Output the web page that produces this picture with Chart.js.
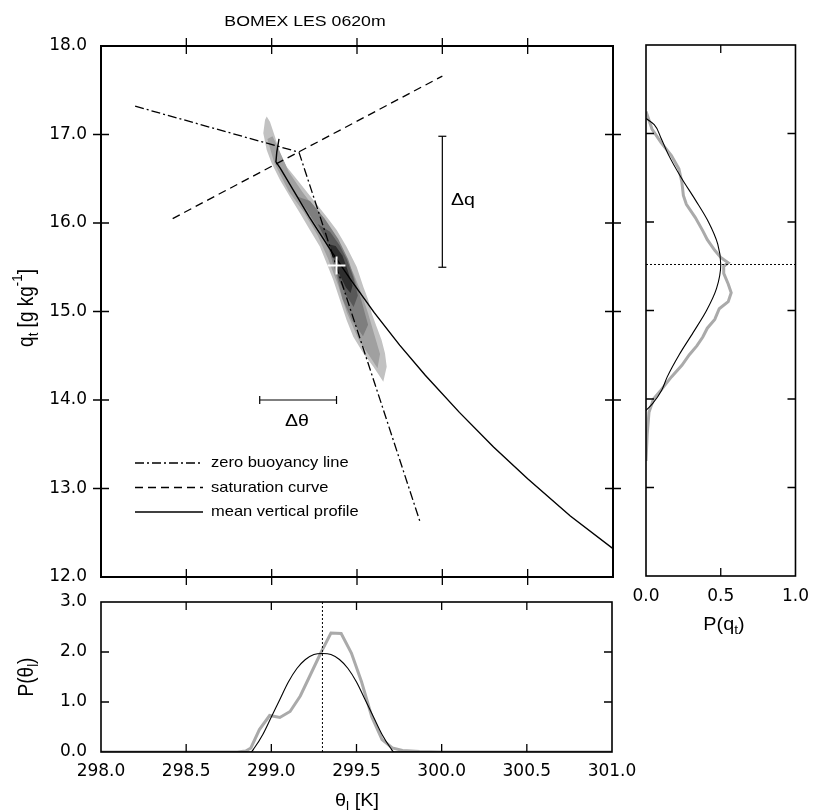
<!DOCTYPE html>
<html>
<head>
<meta charset="utf-8">
<script src="https://cdn.jsdelivr.net/npm/chart.js@4.4.1/dist/chart.umd.min.js"></script>
<style>
  body { margin: 0; background: #fff; }
  #wrap { position: relative; width: 819px; height: 812px; }
  #wrap canvas { position: absolute; left: 0; top: 0; }
</style>
</head>
<body>
<div id="wrap">
  <canvas id="mainChart" width="819" height="812"></canvas>
  <canvas id="rightChart" width="819" height="812"></canvas>
  <canvas id="bottomChart" width="819" height="812"></canvas>
</div>
<script>
/* ===============================
   DATA (theta_l in K, q_t in g/kg)
================================ */
const zeroBuoyTheta = [298.2, 299.16, 299.87];
const zeroBuoyQt = [17.32, 16.8, 12.62];

const satTheta = [298.42, 300.0];
const satQt = [16.05, 17.66];

const profileTheta = [299.043, 299.03, 299.025, 299.05, 299.22, 299.35, 299.47, 299.6, 299.75, 299.9, 300.1, 300.3, 300.5, 300.75, 301.0];
const profileQt = [16.95, 16.8, 16.69, 16.62, 16.07, 15.68, 15.34, 14.99, 14.62, 14.28, 13.86, 13.47, 13.11, 12.69, 12.32];

const meanTheta = 299.38;
const meanQt = 15.52;
const meanThetaPdf = 299.3;

const dqTheta = [300.0, 300.0];
const dqQt = [15.5, 16.98];
const dthTheta = [298.93, 299.38];
const dthQt = [14.0, 14.0];

// joint pdf contours, outer to inner
const c1Theta = [298.961, 298.951, 298.971, 299.0, 299.049, 299.107, 299.166, 299.224, 299.283, 299.322, 299.361, 299.4, 299.439, 299.478, 299.537, 299.596, 299.635, 299.654, 299.674, 299.664, 299.644, 299.615, 299.586, 299.566, 299.537, 299.498, 299.439, 299.381, 299.322, 299.244, 299.166, 299.088, 299.049, 299.019, 298.99, 298.971];
const c1Qt = [17.164, 17.013, 16.825, 16.674, 16.486, 16.298, 16.109, 15.921, 15.733, 15.544, 15.356, 15.13, 14.904, 14.716, 14.527, 14.377, 14.264, 14.207, 14.377, 14.527, 14.678, 14.829, 14.979, 15.13, 15.281, 15.507, 15.733, 15.921, 16.072, 16.26, 16.448, 16.637, 16.787, 16.976, 17.145, 17.202];
const c2Theta = [298.975, 299.015, 299.1, 299.19, 299.27, 299.33, 299.39, 299.44, 299.51, 299.59, 299.62, 299.635, 299.6, 299.565, 299.527, 299.48, 299.42, 299.352, 299.275, 299.18, 299.1, 299.04, 299.005];
const c2Qt = [16.95, 16.68, 16.36, 16.12, 15.86, 15.6, 15.29, 14.99, 14.68, 14.45, 14.36, 14.52, 14.75, 14.98, 15.2, 15.43, 15.66, 15.89, 16.11, 16.35, 16.58, 16.84, 16.98];
const c3Theta = [299.15, 299.215, 299.275, 299.335, 299.375, 299.415, 299.47, 299.535, 299.565, 299.525, 299.488, 299.448, 299.39, 299.31, 299.225];
const c3Qt = [16.3, 16.12, 15.93, 15.7, 15.44, 15.14, 14.9, 14.72, 14.85, 15.13, 15.36, 15.59, 15.82, 16.05, 16.25];
const c4Theta = [299.27, 299.325, 299.365, 299.395, 299.435, 299.48, 299.505, 299.478, 299.44, 299.398, 299.342];
const c4Qt = [15.99, 15.78, 15.58, 15.35, 15.19, 15.05, 15.18, 15.39, 15.59, 15.75, 15.9];
const c5Theta = [299.335, 299.365, 299.395, 299.435, 299.462, 299.474, 299.445, 299.415, 299.375];
const c5Qt = [15.76, 15.63, 15.43, 15.27, 15.21, 15.29, 15.47, 15.63, 15.74];
const contourColors = ['#c2c2c2', '#a0a0a0', '#7e7e7e', '#585858', '#2e2e2e'];

// marginal pdf of q_t
const pqGridQt = [13.87, 13.95, 14.1, 14.25, 14.5, 14.75, 15.0, 15.25, 15.52, 15.75, 16.0, 16.25, 16.5, 16.75, 16.95, 17.1, 17.17];
const pqFit = [0, 0.045, 0.105, 0.142, 0.222, 0.315, 0.405, 0.472, 0.5, 0.48, 0.418, 0.33, 0.236, 0.153, 0.1, 0.055, 0];
const pqLesQt = [17.25, 17.2, 17.05, 16.9, 16.75, 16.6, 16.45, 16.3, 16.2, 16.05, 15.9, 15.8, 15.68, 15.6, 15.54, 15.5, 15.42, 15.3, 15.2, 15.1, 15.02, 14.9, 14.8, 14.7, 14.6, 14.5, 14.38, 14.25, 14.1, 14.0, 13.85, 13.6, 13.3];
const pqLes = [0, 0.01, 0.04, 0.1, 0.17, 0.22, 0.24, 0.25, 0.27, 0.33, 0.38, 0.41, 0.46, 0.5, 0.55, 0.52, 0.52, 0.55, 0.57, 0.55, 0.49, 0.46, 0.41, 0.38, 0.34, 0.29, 0.24, 0.17, 0.1, 0.05, 0.02, 0.008, 0];

// marginal pdf of theta_l
const ptFitTheta = [298.0, 298.88, 298.9, 298.95, 299.0, 299.05, 299.1, 299.15, 299.2, 299.25, 299.3, 299.35, 299.4, 299.45, 299.5, 299.55, 299.6, 299.65, 299.7, 299.72, 301.0];
const ptFit = [0, 0, 0.08, 0.35, 0.7, 1.05, 1.4, 1.67, 1.85, 1.95, 1.97, 1.95, 1.85, 1.67, 1.4, 1.05, 0.7, 0.35, 0.08, 0, 0];
const ptLesTheta = [298.0, 298.8, 298.85, 298.88, 298.93, 298.99, 299.05, 299.11, 299.17, 299.23, 299.29, 299.35, 299.41, 299.47, 299.53, 299.59, 299.65, 299.71, 299.77, 299.87, 300.0, 301.0];
const ptLes = [0, 0, 0.02, 0.08, 0.45, 0.73, 0.69, 0.81, 1.12, 1.55, 1.98, 2.38, 2.37, 1.98, 1.4, 0.7, 0.25, 0.08, 0.03, 0.01, 0, 0];

const legendLabels = ['zero buoyancy line', 'saturation curve', 'mean vertical profile'];

/* ===============================
   HELPERS
================================ */
Chart.defaults.color = '#000';
Chart.defaults.font.family = 'DejaVu Sans';
const TEXT_FONT = 'Liberation Sans';
const TICK_FONT = { size: 17 };

function pts(xs, ys) {
  return xs.map((v, i) => ({ x: v, y: ys[i] }));
}

// parts: [[text, ''|'sub'|'sup'], ...]
function richText(ctx, parts, x, y, size, align, rotated, stretch) {
  const k = stretch || 1.15;
  ctx.save();
  ctx.translate(x, y);
  if (rotated) {
    ctx.rotate(-Math.PI / 2);
    ctx.scale(1, k);
  } else {
    ctx.scale(k, 1);
  }
  ctx.fillStyle = '#000';
  ctx.textBaseline = 'middle';
  ctx.textAlign = 'left';
  const fontFor = (m) => (m ? size * 0.7 : size) + 'px "' + TEXT_FONT + '"';
  let w = 0;
  parts.forEach(([t, m]) => {
    ctx.font = fontFor(m);
    w += ctx.measureText(t).width;
  });
  let cx = align === 'left' ? 0 : -w / 2;
  parts.forEach(([t, m]) => {
    ctx.font = fontFor(m);
    const dy = m === 'sub' ? size * 0.3 : m === 'sup' ? -size * 0.4 : 0;
    ctx.fillText(t, cx, dy);
    cx += ctx.measureText(t).width;
  });
  ctx.restore();
}

const framePlugin = {
  id: 'frame',
  afterDatasetsDraw(chart, args, opts) {
    const { ctx, chartArea: a } = chart;
    const { x, y } = chart.scales;
    ctx.save();
    ctx.strokeStyle = '#000';
    ctx.lineWidth = 1.3;
    ctx.beginPath();
    x.ticks.forEach((t) => {
      if (t.value <= x.min || t.value >= x.max) return;
      const px = x.getPixelForValue(t.value);
      if (opts.xSides.includes('b')) { ctx.moveTo(px, a.bottom + opts.out); ctx.lineTo(px, a.bottom - opts.in); }
      if (opts.xSides.includes('t')) { ctx.moveTo(px, a.top - opts.out); ctx.lineTo(px, a.top + opts.in); }
    });
    y.ticks.forEach((t) => {
      if (t.value <= y.min || t.value >= y.max) return;
      const py = y.getPixelForValue(t.value);
      if (opts.ySides.includes('l')) { ctx.moveTo(a.left - opts.out, py); ctx.lineTo(a.left + opts.in, py); }
      if (opts.ySides.includes('r')) { ctx.moveTo(a.right + opts.out, py); ctx.lineTo(a.right - opts.in, py); }
    });
    ctx.stroke();
    ctx.lineWidth = opts.border;
    ctx.strokeRect(a.left, a.top, a.right - a.left, a.bottom - a.top);
    ctx.restore();
  },
};

const textPlugin = {
  id: 'texts',
  afterDraw(chart, args, opts) {
    (opts.items || []).forEach((it) => {
      richText(chart.ctx, it.parts, it.x, it.y, it.size || 16, it.align, it.rotated, it.stretch);
    });
    if (opts.legend) {
      const ctx = chart.ctx;
      const lg = opts.legend;
      lg.datasets.forEach((ds, i) => {
        const yy = lg.y + i * lg.gap;
        ctx.save();
        ctx.strokeStyle = ds.borderColor;
        ctx.lineWidth = ds.borderWidth;
        ctx.setLineDash(ds.borderDash || []);
        ctx.beginPath();
        ctx.moveTo(lg.x, yy);
        ctx.lineTo(lg.x + lg.len, yy);
        ctx.stroke();
        ctx.restore();
        richText(ctx, [[ds.label, '']], lg.x + lg.len + 8, yy, lg.size, 'left', false, 1.1);
      });
    }
  },
};

const baseOpts = {
  responsive: false,
  animation: false,
  events: [],
  plugins: { legend: { display: false }, tooltip: { enabled: false } },
};

function fixed1(v) {
  return Number(v).toFixed(1);
}

/* ===============================
   MAIN PANEL
================================ */
const lineDatasets = [
  {
    label: legendLabels[0],
    data: pts(zeroBuoyTheta, zeroBuoyQt),
    borderColor: '#000',
    borderWidth: 1.3,
    borderDash: [9, 3, 2, 3],
  },
  {
    label: legendLabels[1],
    data: pts(satTheta, satQt),
    borderColor: '#000',
    borderWidth: 1.3,
    borderDash: [8, 5],
  },
  {
    label: legendLabels[2],
    data: pts(profileTheta, profileQt),
    borderColor: '#000',
    borderWidth: 1.4,
  },
];

const contourSets = [
  [c5Theta, c5Qt],
  [c4Theta, c4Qt],
  [c3Theta, c3Qt],
  [c2Theta, c2Qt],
  [c1Theta, c1Qt],
].map(([th, q], i) => ({
  data: pts(th.concat(th[0]), q.concat(q[0])),
  backgroundColor: contourColors[4 - i],
  borderWidth: 0,
  borderColor: 'rgba(0,0,0,0)',
  fill: 'shape',
}));

new Chart(document.getElementById('mainChart'), {
  type: 'scatter',
  data: {
    datasets: [
      {
        data: [{ x: meanTheta, y: meanQt }],
        pointStyle: 'cross',
        pointRadius: 9,
        borderColor: '#fff',
        borderWidth: 2,
        showLine: false,
      },
      {
        data: pts(dqTheta, dqQt),
        borderColor: '#000',
        borderWidth: 1.2,
        pointStyle: 'line',
        pointRadius: 4,
        pointBorderWidth: 1.2,
      },
      {
        data: pts(dthTheta, dthQt),
        borderColor: '#000',
        borderWidth: 1.2,
        pointStyle: 'line',
        pointRotation: 90,
        pointRadius: 4,
        pointBorderWidth: 1.2,
      },
      ...lineDatasets,
      ...contourSets,
    ],
  },
  options: {
    ...baseOpts,
    showLine: true,
    elements: { point: { radius: 0 }, line: { tension: 0 } },
    layout: { padding: { left: 0, top: 46, right: 206, bottom: 235 } },
    scales: {
      x: {
        type: 'linear',
        min: 298,
        max: 301,
        ticks: { display: false, stepSize: 0.5 },
        grid: { display: false, drawTicks: false },
        border: { display: false },
        afterFit: (s) => { s.height = 0; },
      },
      y: {
        type: 'linear',
        min: 12,
        max: 18,
        ticks: { stepSize: 1, callback: fixed1, padding: 14, font: TICK_FONT },
        grid: { display: false, drawTicks: false },
        border: { display: false },
        afterFit: (s) => { s.width = 101; },
      },
    },
    plugins: {
      ...baseOpts.plugins,
      frame: { border: 2, in: 8, out: 8, xSides: 'tb', ySides: 'lr' },
      texts: {
        items: [
          { parts: [['BOMEX LES 0620m', '']], x: 305, y: 22, size: 15, stretch: 1.18 },
          { parts: [['q', ''], ['t', 'sub'], [' [g kg', ''], ['-1', 'sup'], [']', '']], x: 27, y: 308, size: 19, rotated: true },
          { parts: [['Δq', '']], x: 451, y: 200, size: 17, align: 'left' },
          { parts: [['Δθ', '']], x: 297, y: 421, size: 17 },
        ],
        legend: { x: 135, y: 463, gap: 24.5, len: 68, size: 15, datasets: lineDatasets },
      },
    },
  },
  plugins: [framePlugin, textPlugin],
});

/* ===============================
   RIGHT PANEL  P(q_t)
================================ */
new Chart(document.getElementById('rightChart'), {
  type: 'scatter',
  data: {
    datasets: [
      {
        data: pts(pqFit, pqGridQt),
        borderColor: '#000',
        borderWidth: 1.1,
        indexAxis: 'y',
        cubicInterpolationMode: 'monotone',
      },
      {
        data: pts([0, 1], [meanQt, meanQt]),
        borderColor: '#000',
        borderWidth: 1,
        borderDash: [2, 2],
      },
      {
        data: pts(pqLes, pqLesQt),
        borderColor: '#aaaaaa',
        borderWidth: 3,
      },
    ],
  },
  options: {
    ...baseOpts,
    showLine: true,
    elements: { point: { radius: 0 } },
    layout: { padding: { left: 646, top: 45, right: 17, bottom: 196 } },
    scales: {
      x: {
        type: 'linear',
        min: 0,
        max: 1,
        ticks: { stepSize: 0.5, callback: fixed1, padding: 10, font: TICK_FONT },
        grid: { display: false, drawTicks: false },
        border: { display: false },
        afterFit: (s) => { s.height = 40; },
      },
      y: {
        type: 'linear',
        min: 12,
        max: 18,
        ticks: { display: false, stepSize: 1 },
        grid: { display: false, drawTicks: false },
        border: { display: false },
        afterFit: (s) => { s.width = 0; },
      },
    },
    plugins: {
      ...baseOpts.plugins,
      frame: { border: 1.6, in: 8, out: 0, xSides: 'tb', ySides: 'lr' },
      texts: {
        items: [{ parts: [['P(q', ''], ['t', 'sub'], [')', '']], x: 724, y: 625, size: 18, stretch: 1.1 }],
      },
    },
  },
  plugins: [framePlugin, textPlugin],
});

/* ===============================
   BOTTOM PANEL  P(theta_l)
================================ */
new Chart(document.getElementById('bottomChart'), {
  type: 'scatter',
  data: {
    datasets: [
      {
        data: pts(ptFitTheta, ptFit),
        borderColor: '#000',
        borderWidth: 1.1,
        cubicInterpolationMode: 'monotone',
      },
      {
        data: pts([meanThetaPdf, meanThetaPdf], [0, 3]),
        borderColor: '#000',
        borderWidth: 1,
        borderDash: [2, 2],
      },
      {
        data: pts(ptLesTheta, ptLes),
        borderColor: '#aaaaaa',
        borderWidth: 3,
      },
    ],
  },
  options: {
    ...baseOpts,
    showLine: true,
    elements: { point: { radius: 0 } },
    layout: { padding: { left: 0, top: 602, right: 207, bottom: 20 } },
    scales: {
      x: {
        type: 'linear',
        min: 298,
        max: 301,
        ticks: { stepSize: 0.5, callback: fixed1, padding: 9, font: TICK_FONT },
        grid: { display: false, drawTicks: false },
        border: { display: false },
        afterFit: (s) => { s.height = 40; },
      },
      y: {
        type: 'linear',
        min: 0,
        max: 3,
        ticks: { stepSize: 1, callback: fixed1, padding: 14, font: TICK_FONT },
        grid: { display: false, drawTicks: false },
        border: { display: false },
        afterFit: (s) => { s.width = 101; },
      },
    },
    plugins: {
      ...baseOpts.plugins,
      frame: { border: 1.6, in: 8, out: 0, xSides: 'tb', ySides: 'lr' },
      texts: {
        items: [
          { parts: [['P(θ', ''], ['l', 'sub'], [')', '']], x: 27, y: 677, size: 19, rotated: true },
          { parts: [['θ', ''], ['l', 'sub'], [' [K]', '']], x: 357, y: 801, size: 18, stretch: 1.1 },
        ],
      },
    },
  },
  plugins: [framePlugin, textPlugin],
});
</script>
</body>
</html>
